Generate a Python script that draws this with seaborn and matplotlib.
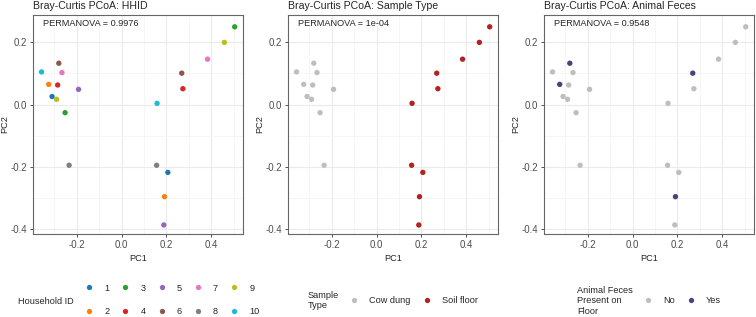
import numpy as np
import pandas as pd
import matplotlib
matplotlib.use("Agg")
import matplotlib.pyplot as plt
from matplotlib.lines import Line2D
import seaborn as sns

# Dados (PCoA Bray-Curtis)
household = [str(i) for i in range(1, 11)] * 2
sample_type = ["Cow dung"] * 10 + ["Soil floor"] * 10
pc1 = [-0.310, -0.325, -0.252, -0.285, -0.192, -0.280, -0.266, -0.234, -0.290, -0.357,
       0.206, 0.191, 0.504, 0.273, 0.188, 0.268, 0.383, 0.156, 0.458, 0.158]
pc2 = [0.026, 0.065, -0.026, 0.063, 0.049, 0.133, 0.103, -0.195, 0.017, 0.105,
       -0.218, -0.296, 0.250, 0.051, -0.387, 0.101, 0.146, -0.195, 0.200, 0.004]
feces_yes = ["2", "6"]
animal_feces = ["Yes" if h in feces_yes else "No" for h in household]

titles = ["Bray-Curtis PCoA: HHID", "Bray-Curtis PCoA: Sample Type", "Bray-Curtis PCoA: Animal Feces"]
permanova = ["0.9976", "1e-04", "0.9548"]
hhid_order = [str(i) for i in range(1, 11)]
type_order = ["Cow dung", "Soil floor"]
feces_order = ["No", "Yes"]

df = pd.DataFrame({"PC1": pc1, "PC2": pc2, "HHID": household,
                   "Type": sample_type, "Feces": animal_feces})

sns.set_style("white")
plt.rcParams["font.family"] = ["Liberation Sans", "DejaVu Sans"]
plt.rcParams["axes.unicode_minus"] = False

pal_hhid = dict(zip(hhid_order, sns.color_palette("tab10", 10)))
pal_type = {"Cow dung": "#bebebe", "Soil floor": "#b22222"}
pal_feces = {"No": "#bebebe", "Yes": "#4f3f7c"}

W, H = 756, 317
fig = plt.figure(figsize=(W / 100, H / 100), dpi=100)

lefts = [33, 288, 544]
configs = [("HHID", hhid_order, pal_hhid), ("Type", type_order, pal_type),
           ("Feces", feces_order, pal_feces)]

FS = 6.6
leg_kw = dict(loc="center left", frameon=False, fontsize=FS, handlelength=1.0,
              handletextpad=1.15, columnspacing=1.25, borderpad=0, borderaxespad=0)
for i, (col, order, pal) in enumerate(configs):
    ax = fig.add_axes([lefts[i] / W, (H - 234) / H, 210 / W, 219 / H])
    sns.scatterplot(data=df, x="PC1", y="PC2", hue=col, hue_order=order, palette=pal,
                    s=15, linewidth=0, legend=False, ax=ax, zorder=3)
    ax.set_xlim(-0.395, 0.541)
    ax.set_ylim(-0.416, 0.288)
    ax.set_xticks([-0.2, 0.0, 0.2, 0.4])
    ax.set_xticklabels(["-0.2", "0.0", "0.2", "0.4"])
    ax.set_yticks([-0.4, -0.2, 0.0, 0.2])
    ax.set_yticklabels(["-0.4", "-0.2", "0.0", "0.2"])
    ax.set_xticks([-0.3, -0.1, 0.1, 0.3, 0.5], minor=True)
    ax.set_yticks([-0.3, -0.1, 0.1], minor=True)
    ax.grid(True, which="major", color="#ebebeb", lw=0.8, zorder=0)
    ax.grid(True, which="minor", color="#f2f2f2", lw=0.45, zorder=0)
    ax.set_axisbelow(True)
    ax.tick_params(which="major", length=2.5, width=0.6, color="#333333", pad=1.5,
                   labelsize=6.9, labelcolor="#4d4d4d", bottom=True, left=True)
    ax.tick_params(which="minor", length=0)
    for sp in ax.spines.values():
        sp.set_color("#666666")
        sp.set_linewidth(0.8)
    ax.set_xlabel("PC1", fontsize=FS, labelpad=3)
    ax.set_ylabel("PC2", fontsize=FS, labelpad=1)
    ax.set_title(titles[i], loc="left", fontsize=7.6, pad=4)
    ax.text(0.046, 0.959, f"PERMANOVA = {permanova[i]}", transform=ax.transAxes,
            fontsize=FS, ha="left", va="center")

    handles = [Line2D([], [], marker="o", linestyle="", markersize=3.8,
                      markerfacecolor=pal[k], markeredgewidth=0) for k in order]
    if col == "HHID":
        fig.legend(handles, order, ncol=5, bbox_to_anchor=(84.5 / W, 1 - 300 / H),
                   labelspacing=1.6, **leg_kw)
        fig.text(18 / W, 1 - 301 / H, "Household ID", fontsize=FS, ha="left", va="center")
    elif col == "Type":
        fig.legend(handles, order, ncol=2, bbox_to_anchor=(349.5 / W, 1 - 300.7 / H),
                   **leg_kw)
        fig.text(308 / W, 1 - 300.7 / H, "Sample\nType", fontsize=FS, ha="left",
                 va="center", linespacing=1.2)
    else:
        fig.legend(handles, order, ncol=2, bbox_to_anchor=(643.5 / W, 1 - 300.7 / H),
                   **leg_kw)
        fig.text(577 / W, 1 - 300.7 / H, "Animal Feces\nPresent on\nFloor", fontsize=FS,
                 ha="left", va="center", linespacing=1.2)

fig.savefig("out.png", dpi=100)
